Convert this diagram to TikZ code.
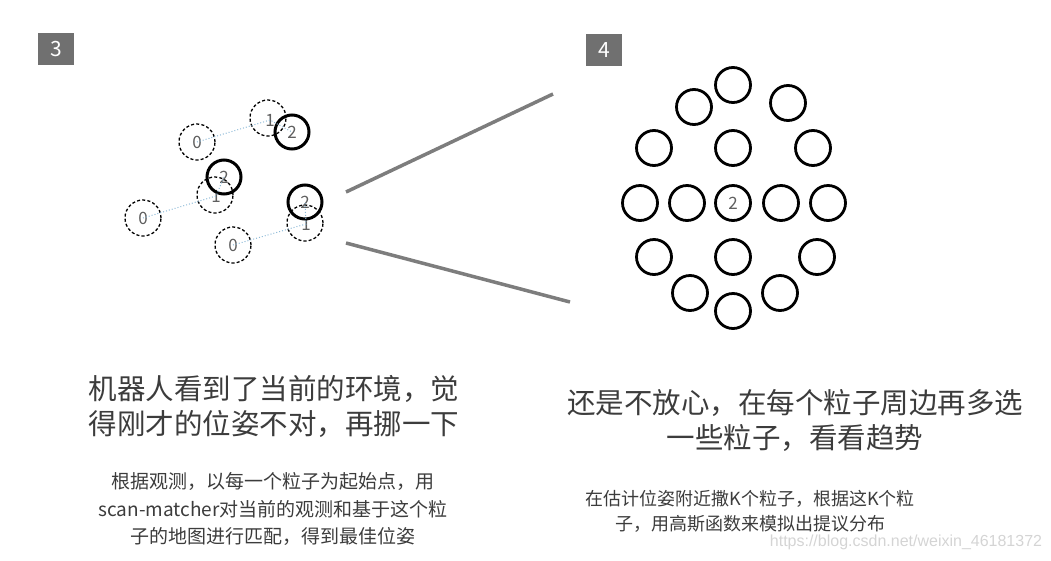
\documentclass[tikz,border=0pt]{standalone}
\usepackage{fontspec}
\setmainfont{Noto Sans CJK SC}
\newfontfamily\wmfont{Liberation Sans}
\definecolor{boxgray}{RGB}{112,112,112}
\definecolor{txtgray}{RGB}{60,60,60}
\definecolor{lblgray}{RGB}{95,95,95}
\definecolor{linkblue}{RGB}{140,185,215}
\definecolor{raygray}{RGB}{125,125,125}
\definecolor{wmgray}{RGB}{212,212,212}

\begin{document}
\begin{tikzpicture}[x=1pt, y=-1pt,
  numbox/.style={fill=boxgray, text=white, minimum width=36pt, minimum height=32pt, inner sep=0pt, font=\fontsize{21}{21}\selectfont},
  oldpart/.style={circle, draw=black, dash pattern=on 3pt off 2.2pt, line width=1.3pt, minimum size=36pt, inner sep=0pt, text=lblgray, font=\fontsize{17}{17}\selectfont},
  bestpart/.style={circle, draw=black, line width=3pt, minimum size=34pt, inner sep=0pt, text=lblgray, font=\fontsize{17}{17}\selectfont},
  newpart/.style={circle, draw=black, line width=2.8pt, minimum size=35pt, inner sep=0pt, text=lblgray, font=\fontsize{17}{17}\selectfont},
  partlabel/.style={text=lblgray, inner sep=0pt, font=\fontsize{17}{17}\selectfont},
  link/.style={draw=linkblue, dotted, line width=1pt},
  ray/.style={draw=raygray, line width=3.5pt},
  headline/.style={text=txtgray, align=center, inner sep=0pt, font=\fontsize{28.5}{35}\selectfont},
  noteline/.style={text=txtgray, align=center, inner sep=0pt}
]
  \useasboundingbox (0,0) rectangle (1051,560);

  % step numbers
  \node[numbox] (num3) at (56,49) {3};
  \node[numbox] (num4) at (604,50) {4};

  % panel 3: particles before and after scan-matching
  \node[oldpart] (p0a) at (197,142) {0};
  \node[oldpart] (p1a) at (268,118) {};
  \node[oldpart] (p0b) at (143,218) {0};
  \node[oldpart] (p1b) at (215,195) {};
  \node[oldpart] (p0c) at (233,245) {0};
  \node[oldpart] (p1c) at (305,223) {};
  \node[partlabel] (l1a) at (270,120) {1};
  \node[partlabel] (l1b) at (216,196) {1};
  \node[partlabel] (l1c) at (306,224) {1};
  \node[bestpart] (p2a) at (292,132) {2};
  \node[bestpart] (p2b) at (224,177) {2};
  \node[bestpart] (p2c) at (305,202) {2};

  \draw[link] (p0a.center) -- (l1a.center) -- (p2a.center);
  \draw[link] (p0b.center) -- (l1b.center) -- (p2b.center);
  \draw[link] (p0c.center) -- (l1c.center) -- (p2c.center);

  % zoom rays
  \coordinate (rayup) at (346,192);
  \coordinate (raydown) at (346,243);
  \coordinate (rayupend) at (553,94);
  \coordinate (raydownend) at (570,302);
  \draw[ray] (rayup) -- (rayupend);
  \draw[ray] (raydown) -- (raydownend);

  % panel 4: sampled particles around the best pose
  \node[newpart] (s1) at (733,85) {};
  \node[newpart] (s2) at (694,107) {};
  \node[newpart] (s3) at (788,103) {};
  \node[newpart] (s4) at (654,148) {};
  \node[newpart] (s5) at (733,148) {};
  \node[newpart] (s6) at (813,148) {};
  \node[newpart] (s7) at (640,203) {};
  \node[newpart] (s8) at (687,203) {};
  \node[newpart] (s0) at (733,203) {2};
  \node[newpart] (s9) at (781,203) {};
  \node[newpart] (s10) at (828,203) {};
  \node[newpart] (s11) at (654,257) {};
  \node[newpart] (s12) at (733,257) {};
  \node[newpart] (s13) at (817,257) {};
  \node[newpart] (s14) at (690,293) {};
  \node[newpart] (s15) at (780,293) {};
  \node[newpart] (s16) at (733,311) {};

  % captions
  \node[headline] (head3) at (274,406) {机器人看到了当前的环境，觉\\得刚才的位姿不对，再挪一下};
  \node[noteline, font=\fontsize{19}{27.5}\selectfont] (note3) at (273,509) {根据观测，以每一个粒子为起始点，用\\scan-matcher对当前的观测和基于这个粒\\子的地图进行匹配，得到最佳位姿};
  \node[headline] (head4) at (795,420) {还是不放心，在每个粒子周边再多选\\一些粒子，看看趋势};
  \node[noteline, font=\fontsize{18}{25}\selectfont] (note4) at (750,511) {在估计位姿附近撒K个粒子，根据这K个粒\\子，用高斯函数来模拟出提议分布};
  \node[text=wmgray, inner sep=0pt, font=\wmfont\fontsize{16}{16}\selectfont] (mark) at (906,542) {https://blog.csdn.net/weixin\_46181372};
\end{tikzpicture}
\end{document}
